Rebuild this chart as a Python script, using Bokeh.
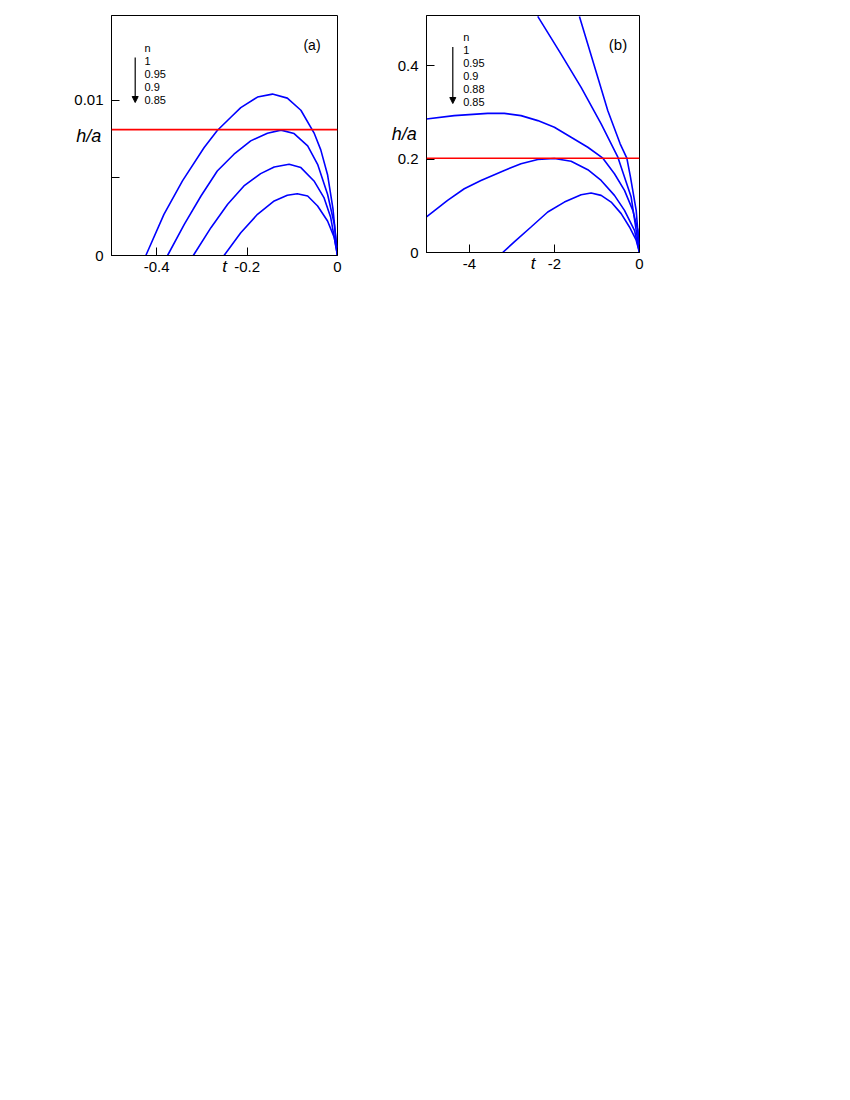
from bokeh.plotting import figure
from bokeh.layouts import row
from bokeh.models import Label, Arrow, NormalHead, Span, FixedTicker, Range1d
from bokeh.embed import file_html
from bokeh.resources import INLINE

# ---------------- data: panel (a) ----------------
a_t_n100 = [-0.424, -0.384, -0.343, -0.295, -0.266, -0.236, -0.214, -0.177, -0.144, -0.111, -0.081, -0.052, -0.037, -0.022, -0.010, 0.0]
a_h_n100 = [0.0, 0.00265, 0.0048, 0.00695, 0.00805, 0.0089, 0.00952, 0.0102, 0.01039, 0.01013, 0.00935, 0.0079, 0.0068, 0.0052, 0.0030, 0.0]
a_t_n095 = [-0.376, -0.339, -0.302, -0.266, -0.229, -0.192, -0.155, -0.125, -0.096, -0.066, -0.044, -0.022, -0.007, 0.0]
a_h_n095 = [0.0, 0.0020, 0.00383, 0.00544, 0.00652, 0.00738, 0.00787, 0.00807, 0.00785, 0.00706, 0.00587, 0.00394, 0.00201, 0.0]
a_t_n090 = [-0.319, -0.280, -0.243, -0.207, -0.170, -0.140, -0.107, -0.081, -0.052, -0.030, -0.015, 0.0]
a_h_n090 = [0.0, 0.00179, 0.0033, 0.00448, 0.00527, 0.0057, 0.00587, 0.00566, 0.0048, 0.00373, 0.00244, 0.0]
a_t_n085 = [-0.251, -0.214, -0.177, -0.140, -0.111, -0.089, -0.066, -0.044, -0.022, -0.007, 0.0]
a_h_n085 = [0.0, 0.00147, 0.00265, 0.00351, 0.00388, 0.00398, 0.00383, 0.00319, 0.00222, 0.00115, 0.0]
a_h_over_a = 0.0081

a_xticks = [-0.4, -0.2, 0]
a_xtick_labels = ["-0.4", "-0.2", "0"]
a_yticks = [0, 0.01]
a_ytick_labels = ["0", "0.01"]
a_yminor = [0.005]
a_legend = ["n", "1", "0.95", "0.9", "0.85"]

# ---------------- data: panel (b) ----------------
b_t_n100 = [-1.413, -1.216, -0.980, -0.745, -0.455, -0.298, -0.212, -0.078, 0.0]
b_h_n100 = [0.506, 0.4466, 0.3752, 0.304, 0.2329, 0.2022, 0.1615, 0.0904, 0.0]
b_t_n095 = [-2.393, -1.845, -1.373, -0.902, -0.509, -0.196, 0.0]
b_h_n095 = [0.506, 0.4252, 0.3539, 0.2756, 0.2043, 0.1188, 0.0]
b_t_n090 = [-5.01, -4.358, -3.571, -3.180, -2.787, -2.393, -2.002, -1.609, -1.216, -0.862, -0.589, -0.353, -0.157, -0.038, 0.0]
b_h_n090 = [0.2863, 0.2934, 0.2983, 0.2983, 0.2934, 0.2827, 0.2684, 0.247, 0.2256, 0.2022, 0.1688, 0.1331, 0.0904, 0.0476, 0.0]
b_t_n088 = [-5.01, -4.514, -4.122, -3.729, -3.180, -2.787, -2.393, -2.002, -1.609, -1.216, -0.902, -0.589, -0.353, -0.118, 0.0]
b_h_n088 = [0.0761, 0.1118, 0.1367, 0.1545, 0.1759, 0.1902, 0.1994, 0.2015, 0.1957, 0.1774, 0.1545, 0.1224, 0.0904, 0.0476, 0.0]
b_t_n085 = [-3.218, -2.945, -2.551, -2.158, -1.767, -1.373, -1.138, -0.902, -0.667, -0.431, -0.236, -0.078, 0.0]
b_h_n085 = [0.0, 0.0227, 0.0547, 0.0868, 0.1081, 0.1239, 0.1274, 0.1224, 0.1081, 0.0833, 0.0547, 0.0263, 0.0]
b_h_over_a = 0.202

b_xticks = [-4, -2, 0]
b_xtick_labels = ["-4", "-2", "0"]
b_yticks = [0, 0.2, 0.4]
b_ytick_labels = ["0", "0.2", "0.4"]
b_legend = ["n", "1", "0.95", "0.9", "0.88", "0.85"]

x_title = "t"
y_title = "h/a"

FONT = "Liberation Sans"
BLUE = "#0000ff"
RED = "#ff0000"


def make_fig(xr, yr, fw, fh, bl, br, bt, bb, xt, xl, yt, yl, yminor, ylab_standoff):
    p = figure(frame_width=fw, frame_height=fh, x_range=Range1d(*xr), y_range=Range1d(*yr),
               output_backend="svg", toolbar_location=None,
               min_border_left=bl, min_border_right=br, min_border_top=bt, min_border_bottom=bb)
    p.grid.visible = False
    p.outline_line_color = "black"
    p.outline_line_width = 1
    p.outline_line_alpha = 1
    p.xaxis.ticker = FixedTicker(ticks=xt)
    p.xaxis.major_label_overrides = {t: l for t, l in zip(xt, xl)}
    p.yaxis.ticker = FixedTicker(ticks=yt, minor_ticks=yminor)
    p.yaxis.major_label_overrides = {t: l for t, l in zip(yt, yl)}
    for ax in (p.xaxis[0], p.yaxis[0]):
        ax.major_tick_in = 8
        ax.major_tick_out = 0
        ax.minor_tick_in = 8
        ax.minor_tick_out = 0
        ax.axis_line_color = "black"
        ax.major_tick_line_color = "black"
        ax.minor_tick_line_color = "black"
        ax.major_label_text_font = FONT
        ax.major_label_text_font_size = "15px"
        ax.major_label_text_color = "black"
        ax.axis_label_text_font = FONT
        ax.axis_label_text_font_style = "italic"
        ax.axis_label_text_color = "black"
    p.xaxis.major_label_standoff = 6
    p.yaxis.major_label_standoff = 8
    p.xaxis.axis_label = x_title
    p.xaxis.axis_label_text_font_size = "17px"
    p.xaxis.axis_label_standoff = -18
    p.yaxis.axis_label = y_title
    p.yaxis.axis_label_text_font_size = "18px"
    p.yaxis.axis_label_orientation = "horizontal"
    p.yaxis.axis_label_standoff = ylab_standoff
    return p


def lab(p, x, y, text, size, style="normal", align="left", baseline="middle"):
    p.add_layout(Label(x=x, y=y, text=text, text_font=FONT, text_font_size=size,
                       text_font_style=style, text_align=align, text_baseline=baseline,
                       text_color="black"))


# ---------------- panel (a) ----------------
AXR = (-0.5, 0.0)
AYR = (0.0, 0.01545)
pa = make_fig(AXR, AYR, 226, 240, 111, 43, 15, 40, a_xticks, a_xtick_labels,
              a_yticks, a_ytick_labels, a_yminor, -30)


def apx(px):
    return AXR[0] + (px - 111) / 226 * (AXR[1] - AXR[0])


def apy(py):
    return AYR[0] + (255 - py) / 240 * (AYR[1] - AYR[0])


for t, h in [(a_t_n100, a_h_n100), (a_t_n095, a_h_n095), (a_t_n090, a_h_n090), (a_t_n085, a_h_n085)]:
    pa.line(t, h, line_color=BLUE, line_width=1.6)
pa.add_layout(Span(location=a_h_over_a, dimension="width", line_color=RED, line_width=1.6))

lab(pa, apx(311.5), apy(44), "(a)", "14px", "normal", "center")
for i, s in enumerate(a_legend):
    lab(pa, apx(144), apy(47.3 + 13.0 * i), s, "11px")
pa.add_layout(Arrow(end=NormalHead(size=6, fill_color="black", line_color="black", line_width=1),
                    x_start=apx(134.7), y_start=apy(57), x_end=apx(134.7), y_end=apy(102),
                    line_color="black", line_width=1.2))

# ---------------- panel (b) ----------------
BXR = (-5.01, 0.0)
BYR = (0.0, 0.508)
pb = make_fig(BXR, BYR, 213, 237, 46, 30, 15, 43, b_xticks, b_xtick_labels,
              b_yticks, b_ytick_labels, [], -22)


def bpx(px):
    return BXR[0] + (px - 426) / 213 * (BXR[1] - BXR[0])


def bpy(py):
    return BYR[0] + (252 - py) / 237 * (BYR[1] - BYR[0])


for t, h in [(b_t_n100, b_h_n100), (b_t_n095, b_h_n095), (b_t_n090, b_h_n090), (b_t_n088, b_h_n088), (b_t_n085, b_h_n085)]:
    pb.line(t, h, line_color=BLUE, line_width=1.6)
pb.add_layout(Span(location=b_h_over_a, dimension="width", line_color=RED, line_width=1.6))

lab(pb, bpx(617.5), bpy(43.5), "(b)", "15px", "normal", "center")
for i, s in enumerate(b_legend):
    lab(pb, bpx(462.7), bpy(36.7 + 12.9 * i), s, "11px")
pb.add_layout(Arrow(end=NormalHead(size=6, fill_color="black", line_color="black", line_width=1),
                    x_start=bpx(452.3), y_start=bpy(46.5), x_end=bpx(452.3), y_end=bpy(103),
                    line_color="black", line_width=1.2))

layout = row(pa, pb)
open("out.html", "w").write(file_html(layout, INLINE))
